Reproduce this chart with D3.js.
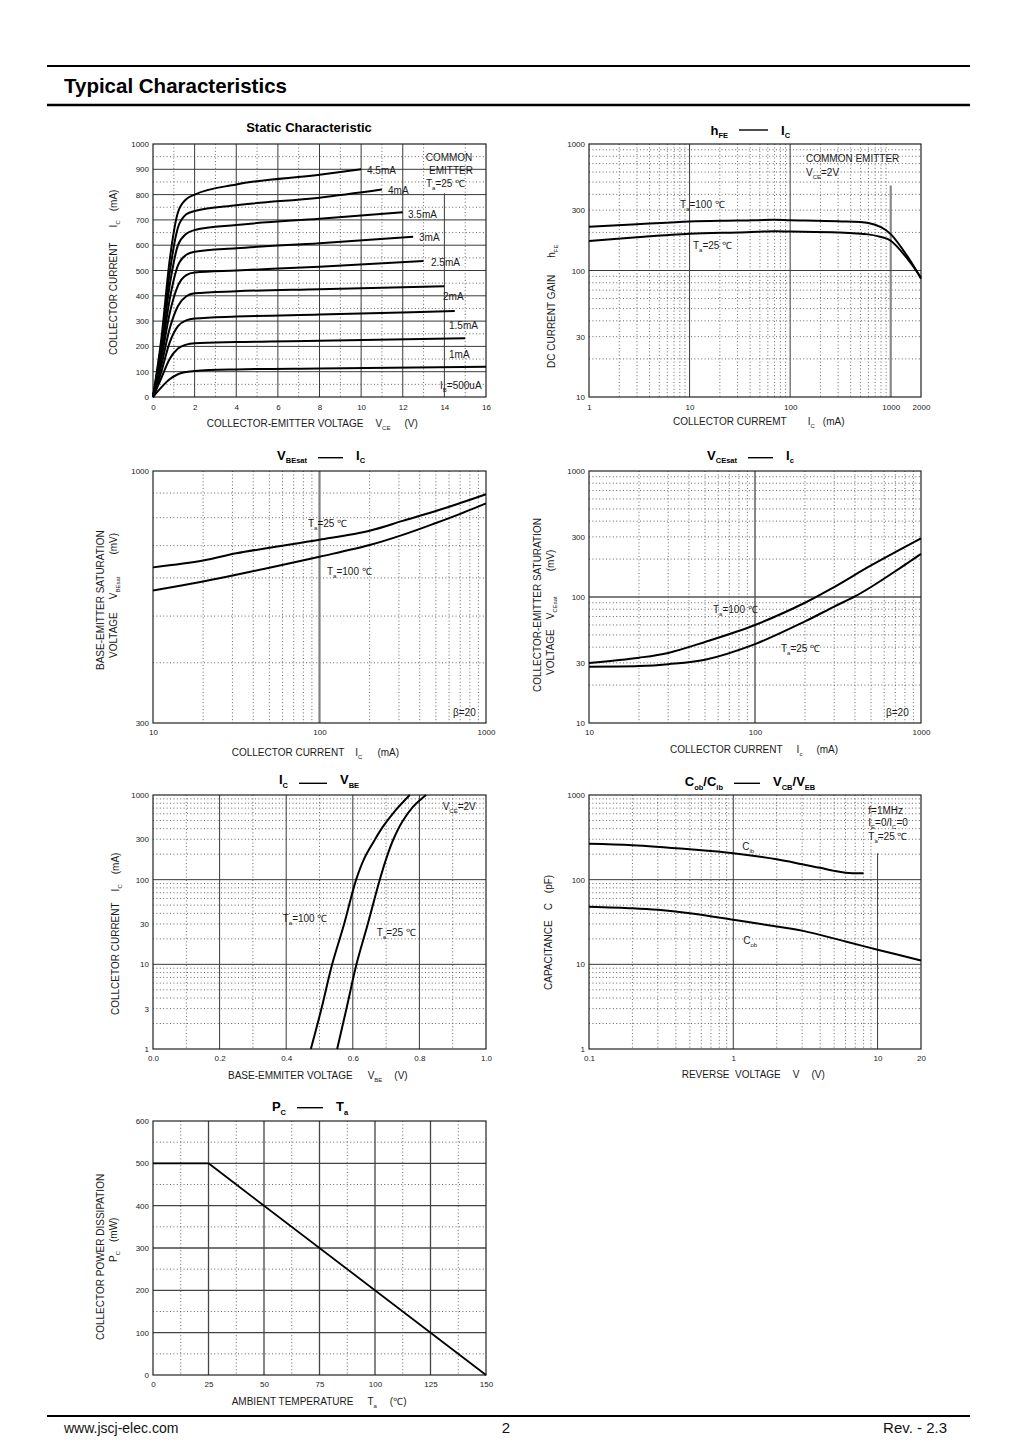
<!DOCTYPE html>
<html><head><meta charset="utf-8">
<script src="https://cdn.jsdelivr.net/npm/d3@7"></script>
<style>
body{margin:0;background:#fff;}
svg{display:block;}
</style></head><body>
<svg id="page" width="1024" height="1448"></svg>
<script>
// ================= DATA =================
// 1) Static characteristic: IC (mA) vs VCE (V) for several base currents
const staticLabels = ["500uA","1mA","1.5mA","2mA","2.5mA","3mA","3.5mA","4mA","4.5mA"];
const staticVce   = [0, 0.4, 0.8, 1.2, 1.6, 2, 4, 8];
const ic_500uA = [0, 38, 70, 90, 99, 103, 109, 113];
const ic_1mA   = [0, 75, 150, 192, 207, 212, 217, 222];
const ic_1_5mA = [0, 100, 215, 280, 303, 310, 318, 326];
const ic_2mA   = [0, 125, 270, 360, 398, 410, 418, 426];
const ic_2_5mA = [0, 150, 330, 440, 482, 492, 500, 515];
const ic_3mA   = [0, 170, 385, 520, 562, 574, 588, 608];
const ic_3_5mA = [0, 190, 440, 600, 645, 660, 680, 705];
const ic_4mA   = [0, 210, 490, 670, 722, 735, 758, 788];
const ic_4_5mA = [0, 230, 540, 730, 782, 800, 840, 878];
const staticEndVce = [16, 15, 14.5, 14, 13, 12.5, 12, 11, 10];
const staticEndIc  = [120, 232, 340, 438, 538, 633, 730, 820, 900];
const staticXTicks = [0, 2, 4, 6, 8, 10, 12, 14, 16];
const staticYTicks = [0, 100, 200, 300, 400, 500, 600, 700, 800, 900, 1000];

// 2) hFE vs IC (mA)
const hfeIc    = [1, 3, 10, 30, 70, 100, 300, 600, 800, 1000, 1500, 2000];
const hfe_100C = [222, 232, 244, 248, 252, 250, 245, 237, 220, 194, 126, 86];
const hfe_25C  = [171, 183, 195, 200, 204, 203, 200, 193, 184, 172, 121, 88];
const hfeXTicks = [1, 10, 100, 1000, 2000];
const hfeYTicks = [10, 30, 100, 300, 1000];

// 3) VBEsat (mV) vs IC (mA)
const vbeIc       = [10, 20, 31.6, 50, 100, 200, 316, 500, 700, 1000];
const vbesat_25C  = [631, 652, 675, 693, 720, 752, 788, 826, 858, 895];
const vbesat_100C = [565, 590, 609, 630, 664, 702, 737, 780, 815, 857];
const vbesatXTicks = [10, 100, 1000];
const vbesatYTicks = [300, 1000];

// 4) VCEsat (mV) vs IC (mA)
const vceIc100    = [10, 20, 30, 50, 100, 200, 300, 500, 1000];
const vcesat_100C = [29.9, 33, 36, 44, 60, 90, 120, 178, 292];
const vceIc25     = [10, 20, 30, 50, 100, 200, 300, 400, 500, 700, 1000];
const vcesat_25C  = [28, 28.3, 29.3, 31.8, 42.3, 64, 84, 101, 120, 160, 220];
const vcesatXTicks = [10, 100, 1000];
const vcesatYTicks = [10, 30, 100, 300, 1000];

// 5) IC (mA) vs VBE (V)
const vbe_100C = [0.474, 0.506, 0.538, 0.574, 0.61, 0.635, 0.66, 0.69, 0.727, 0.771];
const icv_100C = [1, 3, 10, 30, 100, 180, 270, 420, 650, 1000];
const vbe_25C  = [0.553, 0.581, 0.611, 0.645, 0.681, 0.703, 0.722, 0.748, 0.78, 0.82];
const icv_25C  = [1, 3, 10, 30, 100, 190, 300, 480, 720, 1000];
const icvXTicks = [0, 0.2, 0.4, 0.6, 0.8, 1.0];
const icvYTicks = [1, 3, 10, 30, 100, 300, 1000];

// 6) Capacitance (pF) vs reverse voltage (V)
const cibV = [0.1, 0.2, 0.5, 1, 2, 3, 4, 5, 6, 8];
const cib  = [265, 255, 228, 205, 174, 152, 138, 127, 121, 119];
const cobV = [0.1, 0.2, 0.3, 0.5, 1, 2, 3, 6, 10, 20];
const cob  = [48, 46, 44, 40, 33.6, 28, 25, 18.6, 14.9, 11.1];
const capXTicks = [0.1, 1, 10, 20];
const capYTicks = [1, 10, 100, 1000];

// 7) PC (mW) vs Ta (°C)
const pcTa = [0, 25, 150];
const pcPc = [500, 500, 0];
const pcXTicks = [0, 25, 50, 75, 100, 125, 150];
const pcYTicks = [0, 100, 200, 300, 400, 500, 600];

// ================= DRAWING =================
const FONT = "'Liberation Sans', Arial, Helvetica, sans-serif";
const svg = d3.select("#page").attr("font-family", FONT);
const S = t => ({ t, sub: true });
const G = (t, dx) => ({ t, dx });

function addText(parent, x, y, parts, o = {}) {
  const size = o.size || 10, subSize = o.subSize || size * 0.6, drop = o.drop || size * 0.3;
  const t = parent.append("text")
    .attr("x", x).attr("y", y)
    .attr("font-size", size)
    .attr("font-weight", o.bold ? "bold" : "normal")
    .attr("text-anchor", o.anchor || "start")
    .attr("fill", o.fill || "#1a1a1a")
    .style("white-space", "pre");
  if (o.rot) t.attr("transform", `rotate(-90,${x},${y})`);
  let cur = 0;
  for (const p of parts) {
    const s = typeof p === "string" ? { t: p } : p;
    const ts = t.append("tspan").text(s.t);
    const want = s.sub ? drop : 0;
    if (want !== cur) { ts.attr("dy", want - cur); cur = want; }
    if (s.dx) ts.attr("dx", s.dx);
    if (s.sub) ts.attr("font-size", subSize);
  }
  return t;
}

function decadeMinors(lo, hi) {
  const out = [];
  for (let e = Math.floor(Math.log10(lo)); e <= Math.ceil(Math.log10(hi)); e++)
    for (let m = 2; m <= 9; m++) {
      const v = m * Math.pow(10, e);
      if (v > lo * 1.0001 && v < hi * 0.9999) out.push(+v.toPrecision(6));
    }
  return out;
}

function panel(cfg) {
  const { x, y } = cfg;
  const [L, R] = x.range(), [B, T] = y.range();
  const g = svg.append("g");
  const dot = sel => sel.attr("stroke", "#555").attr("stroke-width", 0.9).attr("stroke-dasharray", "1 2.4");
  g.selectAll(null).data(cfg.dotX || []).join("line")
    .attr("x1", d => x(d)).attr("x2", d => x(d)).attr("y1", T).attr("y2", B).call(dot);
  g.selectAll(null).data(cfg.dotY || []).join("line")
    .attr("x1", L).attr("x2", R).attr("y1", d => y(d)).attr("y2", d => y(d)).call(dot);
  g.selectAll(null).data(cfg.solidX || []).join("line")
    .attr("x1", d => x(d.v)).attr("x2", d => x(d.v))
    .attr("y1", d => d.top != null ? y(d.top) : T).attr("y2", B)
    .attr("stroke", d => d.c || "#3a3a3a").attr("stroke-width", d => d.w || 1);
  g.selectAll(null).data(cfg.solidY || []).join("line")
    .attr("y1", d => y(d.v)).attr("y2", d => y(d.v)).attr("x1", L).attr("x2", R)
    .attr("stroke", d => d.c || "#3a3a3a").attr("stroke-width", d => d.w || 1);
  g.append("rect").attr("x", L).attr("y", T).attr("width", R - L).attr("height", B - T)
    .attr("fill", "none").attr("stroke", "#222").attr("stroke-width", 1.2);
  const ax = g.append("g").attr("transform", `translate(0,${B})`)
    .call(d3.axisBottom(x).tickValues(cfg.xTicks).tickFormat(cfg.xFmt || (d => String(d))).tickSize(0).tickPadding(cfg.xPad || 6));
  const ay = g.append("g").attr("transform", `translate(${L},0)`)
    .call(d3.axisLeft(y).tickValues(cfg.yTicks).tickFormat(cfg.yFmt || (d => String(d))).tickSize(0).tickPadding(4));
  [ax, ay].forEach(a => {
    a.select(".domain").remove();
    a.attr("font-family", FONT).attr("font-size", 8);
    a.selectAll("text").attr("fill", "#222");
  });
  const line = d3.line().x(d => x(d[0])).y(d => y(d[1])).curve(cfg.curve || d3.curveCatmullRom.alpha(0.5));
  g.selectAll(null).data(cfg.series).join("path")
    .attr("d", d => line(d3.zip(d.xs, d.ys)))
    .attr("fill", "none").attr("stroke", "#000").attr("stroke-width", cfg.lw || 2)
    .attr("stroke-linejoin", "round");
  return g;
}

function title(cx0, cx1, cy, base, left, right) {
  svg.append("line").attr("x1", cx0).attr("x2", cx1).attr("y1", cy).attr("y2", cy)
    .attr("stroke", "#000").attr("stroke-width", 1.4);
  addText(svg, cx0 - 11, base, left, { size: 13, bold: true, anchor: "end", subSize: 7.5, drop: 3.5, fill: "#000" });
  addText(svg, cx1 + 13, base, right, { size: 13, bold: true, subSize: 7.5, drop: 3.5, fill: "#000" });
}

// ---------- page header / footer ----------
svg.append("line").attr("x1", 47).attr("x2", 970).attr("y1", 66).attr("y2", 66).attr("stroke", "#000").attr("stroke-width", 2);
svg.append("line").attr("x1", 47).attr("x2", 970).attr("y1", 105).attr("y2", 105).attr("stroke", "#000").attr("stroke-width", 2.5);
svg.append("text").attr("x", 64).attr("y", 93).attr("font-size", 20.5).attr("font-weight", "bold").attr("fill", "#000")
  .text("Typical Characteristics");
svg.append("line").attr("x1", 47).attr("x2", 970).attr("y1", 1416).attr("y2", 1416).attr("stroke", "#000").attr("stroke-width", 2);
svg.append("text").attr("x", 64).attr("y", 1433).attr("font-size", 14).attr("fill", "#111").text("www.jscj-elec.com");
svg.append("text").attr("x", 506).attr("y", 1433).attr("font-size", 15).attr("text-anchor", "middle").attr("fill", "#111").text("2");
svg.append("text").attr("x", 947).attr("y", 1433).attr("font-size", 15).attr("text-anchor", "end").attr("fill", "#111").text("Rev. - 2.3");

// ---------- 1. Static characteristic ----------
{
  const x = d3.scaleLinear().domain([0, 16]).range([153, 486]);
  const y = d3.scaleLinear().domain([0, 1000]).range([397, 144]);
  const curves = [ic_500uA, ic_1mA, ic_1_5mA, ic_2mA, ic_2_5mA, ic_3mA, ic_3_5mA, ic_4mA, ic_4_5mA];
  const series = curves.map((c, i) => ({ xs: staticVce.concat([staticEndVce[i]]), ys: c.concat([staticEndIc[i]]) }));
  panel({
    x, y, series, xTicks: staticXTicks, yTicks: staticYTicks, xPad: 7, curve: d3.curveMonotoneX,
    dotX: [1, 3, 5, 7, 9, 11, 13, 15], dotY: d3.range(50, 1000, 100),
    solidX: [2, 4, 6, 8, 10, 12].map(v => ({ v })).concat([{ v: 14, top: 805 }]),
    solidY: d3.range(100, 1000, 100).map(v => ({ v }))
  });
  svg.append("text").attr("x", 309).attr("y", 132).attr("text-anchor", "middle").attr("font-size", 13)
    .attr("font-weight", "bold").attr("fill", "#000").text("Static Characteristic");
  const labelPos = [[440, 388.5], [449, 357.8], [449, 328.5], [443, 300], [431, 265.8], [419, 240.8], [408, 217.5], [388, 193.5], [367, 173.5]];
  staticLabels.forEach((lab, i) => {
    const parts = i === 0 ? ["I", S("B"), "=" + lab] : [lab];
    addText(svg, labelPos[i][0], labelPos[i][1], parts);
  });
  addText(svg, 449, 161, ["COMMON"], { anchor: "middle" });
  addText(svg, 451, 173.5, ["EMITTER"], { anchor: "middle" });
  addText(svg, 426, 186.5, ["T", S("a"), "=25 ℃"]);
  addText(svg, 206.7, 426.6, ["COLLECTOR-EMITTER VOLTAGE", G("V", 12), S("CE"), G("(V)", 14)]);
  addText(svg, 116.6, 355, ["COLLECTOR CURRENT", G("I", 15), S("C"), G("(mA)", 9)], { rot: true });
}

// ---------- 2. hFE - IC ----------
{
  const x = d3.scaleLog().domain([1, 2000]).range([589, 921]);
  const y = d3.scaleLog().domain([10, 1000]).range([397, 144]);
  panel({
    x, y, xTicks: hfeXTicks, yTicks: hfeYTicks, xPad: 7,
    series: [{ xs: hfeIc, ys: hfe_100C }, { xs: hfeIc, ys: hfe_25C }],
    dotX: decadeMinors(1, 2000), dotY: decadeMinors(10, 1000),
    solidX: [{ v: 10 }, { v: 100 }, { v: 1000, top: 470, w: 2.2, c: "#888" }],
    solidY: [{ v: 100 }]
  });
  title(739, 768, 130, 134.5, ["h", S("FE")], ["I", S("C")]);
  addText(svg, 680, 207.8, ["T", S("a"), "=100 ℃"]);
  addText(svg, 693, 249, ["T", S("a"), "=25 ℃"]);
  addText(svg, 806, 161.8, ["COMMON EMITTER"]);
  addText(svg, 806, 175.8, ["V", S("CE"), "=2V"]);
  addText(svg, 673, 424.6, ["COLLECTOR CURREMT", G("I", 21), S("C"), G("(mA)", 8)]);
  addText(svg, 554.6, 368, ["DC CURRENT GAIN", G("h", 17), S("FE")], { rot: true });
}

// ---------- 3. VBEsat - IC ----------
{
  const x = d3.scaleLog().domain([10, 1000]).range([153, 486]);
  const y = d3.scaleLog().domain([300, 1000]).range([723, 471]);
  panel({
    x, y, xTicks: vbesatXTicks, yTicks: vbesatYTicks,
    series: [{ xs: vbeIc, ys: vbesat_25C }, { xs: vbeIc, ys: vbesat_100C }],
    dotX: decadeMinors(10, 1000), dotY: decadeMinors(300, 1000),
    solidX: [{ v: 100, w: 2.2, c: "#808080" }]
  });
  title(318, 343, 457.7, 459.5, ["V", S("BEsat")], ["I", S("C")]);
  addText(svg, 308, 526.8, ["T", S("a"), "=25 ℃"]);
  addText(svg, 327, 575, ["T", S("a"), "=100 ℃"]);
  addText(svg, 453, 715.8, ["β=20"]);
  addText(svg, 231.7, 755.6, ["COLLECTOR CURRENT", G("I", 11), S("C"), G("(mA)", 15)]);
  addText(svg, 104.3, 670, ["BASE-EMITTER SATURATION"], { rot: true });
  addText(svg, 116.6, 658, ["VOLTAGE", G("V", 13), S("BEsat"), G("(mV)", 22)], { rot: true });
}

// ---------- 4. VCEsat - IC ----------
{
  const x = d3.scaleLog().domain([10, 1000]).range([589, 921]);
  const y = d3.scaleLog().domain([10, 1000]).range([723, 471]);
  panel({
    x, y, xTicks: vcesatXTicks, yTicks: vcesatYTicks,
    series: [{ xs: vceIc100, ys: vcesat_100C }, { xs: vceIc25, ys: vcesat_25C }],
    dotX: decadeMinors(10, 1000), dotY: decadeMinors(10, 1000),
    solidX: [{ v: 100, w: 1.4, c: "#555" }], solidY: [{ v: 100, w: 1.4, c: "#555" }]
  });
  title(748, 773, 457.7, 459.5, ["V", S("CEsat")], ["I", S("c")]);
  addText(svg, 713, 612.5, ["T", S("a"), "=100 ℃"]);
  addText(svg, 781, 651.8, ["T", S("a"), "=25 ℃"]);
  addText(svg, 886, 716, ["β=20"]);
  addText(svg, 670, 752.6, ["COLLECTOR CURRENT", G("I", 14), S("c"), G("(mA)", 14)]);
  addText(svg, 540.6, 692, ["COLLECTOR-EMITTER SATURATION"], { rot: true });
  addText(svg, 553.6, 675, ["VOLTAGE", G("V", 10), S("CEsat"), G("(mV)", 25)], { rot: true });
}

// ---------- 5. IC - VBE ----------
{
  const x = d3.scaleLinear().domain([0, 1]).range([153, 486]);
  const y = d3.scaleLog().domain([1, 1000]).range([1049, 795]);
  panel({
    x, y, xTicks: icvXTicks, yTicks: icvYTicks, xFmt: d3.format(".1f"),
    series: [{ xs: vbe_100C, ys: icv_100C }, { xs: vbe_25C, ys: icv_25C }],
    dotX: [0.1, 0.3, 0.5, 0.7, 0.9], dotY: decadeMinors(1, 1000),
    solidX: [0.2, 0.4, 0.6, 0.8].map(v => ({ v })), solidY: [{ v: 10 }, { v: 100 }]
  });
  title(299, 327, 783.3, 784, ["I", S("C")], ["V", S("BE")]);
  addText(svg, 282.7, 921.8, ["T", S("a"), "=100 ℃"]);
  addText(svg, 376.7, 935.8, ["T", S("a"), "=25 ℃"]);
  addText(svg, 442.7, 809.5, ["V", S("CE"), "=2V"]);
  addText(svg, 228, 1078.6, ["BASE-EMMITER VOLTAGE", G("V", 15), S("BE"), G("(V)", 12)]);
  addText(svg, 118.6, 1015, ["COLLCETOR CURRENT", G("I", 11), S("C"), G("(mA)", 10)], { rot: true });
}

// ---------- 6. Cob/Cib - VCB/VEB ----------
{
  const x = d3.scaleLog().domain([0.1, 20]).range([589, 921]);
  const y = d3.scaleLog().domain([1, 1000]).range([1049, 795]);
  panel({
    x, y, xTicks: capXTicks, yTicks: capYTicks,
    series: [{ xs: cibV, ys: cib }, { xs: cobV, ys: cob }],
    dotX: decadeMinors(0.1, 20), dotY: decadeMinors(1, 1000),
    solidX: [{ v: 1 }, { v: 10, top: 205 }], solidY: [{ v: 10 }, { v: 100 }]
  });
  title(734, 760, 783.3, 786, ["C", S("ob"), "/C", S("ib")], ["V", S("CB"), "/V", S("EB")]);
  addText(svg, 742.3, 849.5, ["C", S("ib")]);
  addText(svg, 743.3, 943.5, ["C", S("ob")]);
  addText(svg, 868.3, 813.5, ["f=1MHz"]);
  addText(svg, 868.3, 826, ["I", S("E"), "=0/I", S("C"), "=0"]);
  addText(svg, 868.3, 840, ["T", S("a"), "=25 ℃"]);
  addText(svg, 681.7, 1078, ["REVERSE  VOLTAGE", G("V", 12), G("(V)", 12)]);
  addText(svg, 551.6, 990, ["CAPACITANCE", G("C", 10), G("(pF)", 10)], { rot: true });
}

// ---------- 7. PC - Ta ----------
{
  const x = d3.scaleLinear().domain([0, 150]).range([153, 486]);
  const y = d3.scaleLinear().domain([0, 600]).range([1375, 1121]);
  panel({
    x, y, xTicks: pcXTicks, yTicks: pcYTicks, lw: 1.8, curve: d3.curveLinear,
    series: [{ xs: pcTa, ys: pcPc }],
    dotX: [12.5, 37.5, 62.5, 87.5, 112.5, 137.5], dotY: d3.range(50, 600, 100),
    solidX: [25, 50, 75, 100, 125].map(v => ({ v, w: 1.3, c: "#444" })),
    solidY: [100, 200, 300, 400, 500].map(v => ({ v, w: 1.3, c: "#444" }))
  });
  title(297, 323, 1107.7, 1111, ["P", S("C")], ["T", S("a")]);
  addText(svg, 231.7, 1404.6, ["AMBIENT TEMPERATURE", G("T", 14), S("a"), G("(℃)", 13)]);
  addText(svg, 103.6, 1340, ["COLLECTOR POWER DISSIPATION"], { rot: true });
  addText(svg, 116.6, 1262, ["P", S("C"), G("(mW)", 9)], { rot: true });
}
</script>
</body></html>
